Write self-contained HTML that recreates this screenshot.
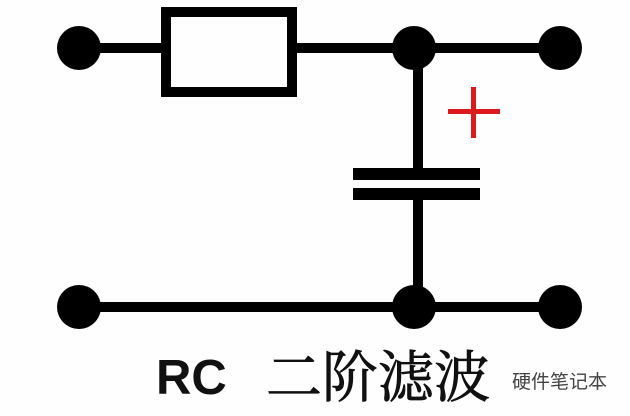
<!DOCTYPE html>
<html><head><meta charset="utf-8"><style>
html,body{margin:0;padding:0;background:#fff;}
body{width:630px;height:416px;overflow:hidden;position:relative;}
</style></head><body>
<svg width="630" height="416" viewBox="0 0 630 416" xmlns="http://www.w3.org/2000/svg" style="position:absolute;left:0;top:0">
<rect width="630" height="416" fill="#fefefe"/>
<g fill="#000" stroke="none">
<rect x="78" y="43" width="88" height="10"/>
<rect x="292" y="43" width="268" height="10"/>
<rect x="78" y="302" width="482" height="10"/>
<rect x="413" y="48" width="10" height="122"/>
<rect x="413" y="198" width="10" height="108"/>
<rect x="353" y="168" width="127" height="12"/>
<rect x="353" y="188" width="127" height="12"/>
<ellipse cx="79" cy="48" rx="22" ry="22"/>
<ellipse cx="414" cy="48" rx="22" ry="22"/>
<ellipse cx="560" cy="48" rx="22" ry="22"/>
<ellipse cx="79" cy="307" rx="22" ry="22"/>
<ellipse cx="414" cy="307" rx="22" ry="22"/>
<ellipse cx="560" cy="307" rx="22" ry="22"/>
</g>
<rect x="166" y="12" width="126" height="80" fill="none" stroke="#000" stroke-width="10"/>
<rect x="448" y="109" width="52" height="5" fill="#dc1a1e"/>
<rect x="471" y="87" width="5" height="51" fill="#dc1a1e"/>
<text x="156" y="394" font-family="Liberation Sans, sans-serif" font-weight="bold" font-size="49" fill="#111">RC</text>
<text x="266" y="397" font-family="Liberation Serif, 'Noto Serif CJK SC', serif" font-size="56" fill="#111" stroke="#111" stroke-width="0.8">二阶滤波</text>
<text x="512" y="388" font-family="Liberation Sans, 'Noto Sans CJK SC', sans-serif" font-size="19" fill="#444">硬件笔记本</text>
</svg>
</body></html>
